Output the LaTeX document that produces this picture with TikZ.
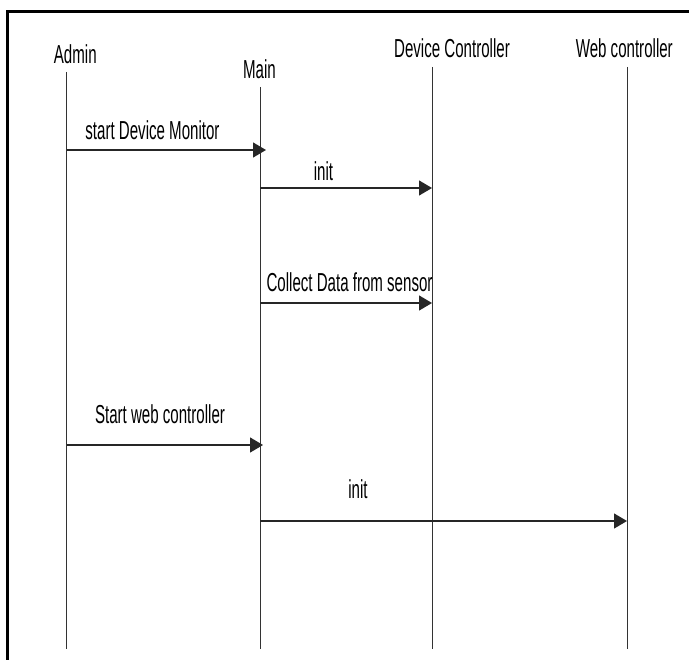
\documentclass[tikz,border=0pt]{standalone}
\usepackage{fontspec}
\setmainfont[FakeStretch=0.58]{Liberation Sans}
\usetikzlibrary{arrows.meta}
\begin{document}
\begin{tikzpicture}[x=1bp,y=-1bp,
  lbl/.style={anchor=base,inner sep=0pt,font=\fontsize{26bp}{31bp}\selectfont},
  life/.style={draw=black!80,line width=0.9bp},
  msg/.style={draw=black!85,line width=1.3bp,-{Triangle[length=13bp,width=15bp]}},
  frame/.style={draw=black,line width=3bp}]
\useasboundingbox (0,0) rectangle (689,660);
% frame
\coordinate (fTL) at (7.5,12);
\coordinate (fTR) at (689,12);
\coordinate (fBL) at (7.5,660);
\draw[frame] (fBL) -- (fTL) -- (fTR);
% lifeline heads
\node[lbl] (admin) at (75.3,64) {Admin};
\node[lbl] (main) at (259.5,79) {Main};
\node[lbl] (dev) at (452,57.3) {Device Controller};
\node[lbl] (web) at (624.3,57.3) {Web controller};
% lifelines
\coordinate (aT) at (66.5,72);  \coordinate (aB) at (66.5,649);
\coordinate (mT) at (260,87);   \coordinate (mB) at (260,649);
\coordinate (dT) at (432,67);   \coordinate (dB) at (432,649);
\coordinate (wT) at (627,67);   \coordinate (wB) at (627,649);
\draw[life] (aT) -- (aB);
\draw[life] (mT) -- (mB);
\draw[life] (dT) -- (dB);
\draw[life] (wT) -- (wB);
% message endpoints
\coordinate (m1s) at (66.5,150); \coordinate (m1e) at (266,150);
\coordinate (m2s) at (260,188);  \coordinate (m2e) at (432,188);
\coordinate (m3s) at (260,303);  \coordinate (m3e) at (432,303);
\coordinate (m4s) at (66.5,445); \coordinate (m4e) at (263,445);
\coordinate (m5s) at (260,521);  \coordinate (m5e) at (627,521);
\draw[msg] (m1s) -- (m1e);
\draw[msg] (m2s) -- (m2e);
\draw[msg] (m3s) -- (m3e);
\draw[msg] (m4s) -- (m4e);
\draw[msg] (m5s) -- (m5e);
% labels
\node[lbl] (l1) at (152.5,139) {start Device Monitor};
\node[lbl] (l2) at (323.5,180) {init};
\node[lbl] (l3) at (349.5,291) {Collect Data from sensor};
\node[lbl] (l4) at (160,423) {Start web controller};
\node[lbl] (l5) at (358,498) {init};
\end{tikzpicture}
\end{document}
